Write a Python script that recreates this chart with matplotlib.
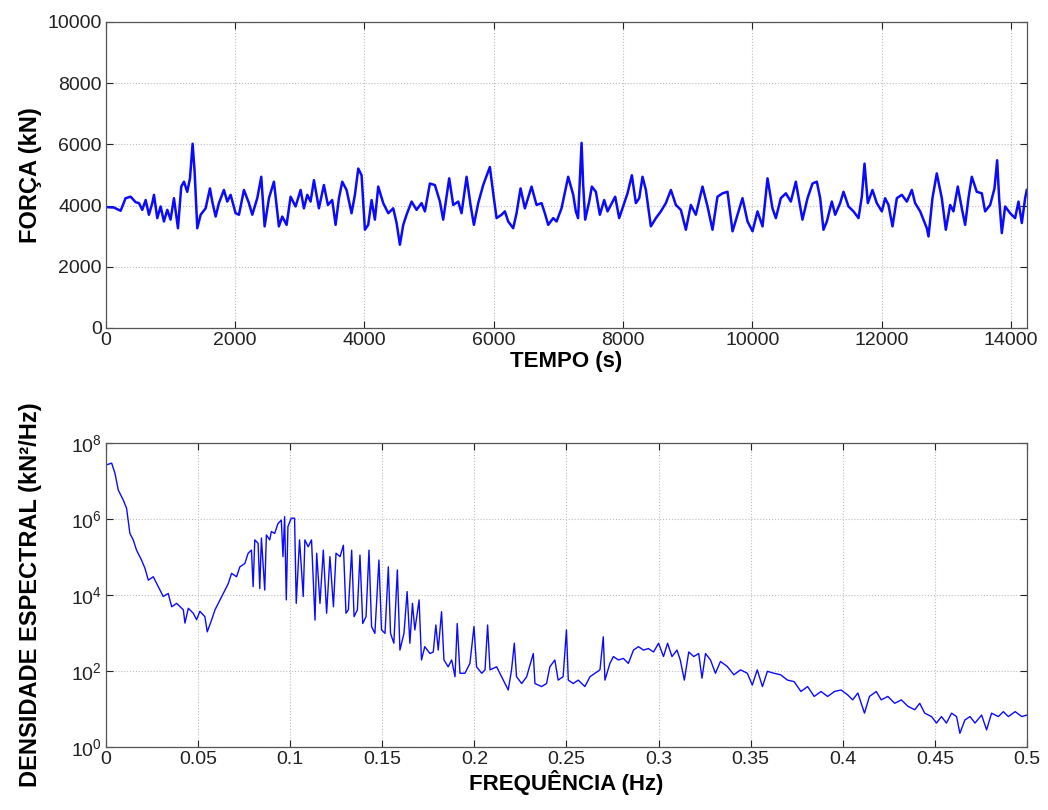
#forca no tempo e densidade espectral (figura em 2 paineis)

import matplotlib
matplotlib.use('Agg')
import matplotlib.pyplot as plt
import numpy as np

plt.rcParams['font.family'] = ['Liberation Sans', 'DejaVu Sans']
plt.rcParams['mathtext.fontset'] = 'custom'
plt.rcParams['mathtext.rm'] = 'Liberation Sans'

# serie temporal (s, kN)
tempo = [0, 124, 227, 304, 382, 459, 511, 562, 614, 665,
         717, 743, 794, 846, 897, 949, 1000, 1052, 1114, 1165,
         1207, 1258, 1300, 1341, 1372, 1413, 1465, 1542, 1609, 1645,
         1697, 1748, 1825, 1877, 1929, 2006, 2058, 2135, 2212, 2264,
         2341, 2403, 2455, 2522, 2599, 2676, 2728, 2795, 2857, 2934,
         3012, 3063, 3115, 3166, 3218, 3295, 3372, 3434, 3501, 3553,
         3605, 3656, 3723, 3800, 3852, 3904, 3955, 4007, 4058, 4110,
         4161, 4213, 4290, 4368, 4445, 4497, 4548, 4600, 4651, 4729,
         4806, 4883, 4935, 5012, 5090, 5167, 5218, 5311, 5373, 5451,
         5502, 5580, 5641, 5693, 5760, 5837, 5940, 6002, 6044, 6121,
         6172, 6224, 6301, 6353, 6415, 6482, 6585, 6662, 6740, 6791,
         6843, 6920, 6972, 7049, 7152, 7230, 7270, 7305, 7333, 7359,
         7384, 7415, 7477, 7518, 7580, 7642, 7709, 7761, 7828, 7879,
         7941, 8019, 8070, 8137, 8199, 8251, 8302, 8354, 8431, 8509,
         8586, 8663, 8741, 8818, 8895, 8973, 9050, 9127, 9230, 9308,
         9385, 9462, 9540, 9617, 9695, 9772, 9849, 9927, 10004, 10081,
         10159, 10236, 10313, 10365, 10442, 10520, 10597, 10674, 10777, 10855,
         10932, 10999, 11051, 11102, 11154, 11231, 11283, 11360, 11412, 11489,
         11566, 11644, 11695, 11737, 11788, 11860, 11927, 12005, 12056, 12108,
         12170, 12237, 12314, 12392, 12469, 12520, 12598, 12701, 12727, 12788,
         12855, 12933, 12995, 13062, 13113, 13180, 13242, 13294, 13345, 13397,
         13474, 13552, 13603, 13681, 13748, 13789, 13820, 13861, 13913, 13990,
         14067, 14119, 14171, 14222, 14248]
forca = [3950, 3935, 3830, 4240, 4290, 4110, 4080, 3860, 4180, 3700,
         4080, 4350, 3590, 3970, 3480, 3860, 3540, 4240, 3260, 4620,
         4780, 4450, 4890, 6020, 5100, 3260, 3700, 3910, 4560, 4130,
         3640, 4080, 4510, 4130, 4350, 3750, 3700, 4510, 4080, 3700,
         4240, 4940, 3320, 4240, 4780, 3320, 3640, 3370, 4290, 3970,
         4510, 3910, 4350, 4130, 4830, 3910, 4670, 4020, 4180, 3370,
         4240, 4780, 4510, 3750, 4350, 5210, 4990, 3210, 3370, 4180,
         3540, 4620, 4080, 3750, 3910, 3430, 2720, 3370, 3700, 4130,
         3860, 4080, 3810, 4720, 4670, 4130, 3540, 4890, 4020, 4130,
         3750, 4940, 4020, 3370, 4080, 4670, 5260, 4240, 3590, 3700,
         3810, 3480, 3260, 3750, 4560, 3910, 4620, 4020, 4080, 3750,
         3370, 3590, 3480, 3910, 4940, 4350, 3810, 3590, 4890, 6050,
         4670, 3540, 4130, 4620, 4450, 3700, 4180, 3810, 4080, 4290,
         3590, 4080, 4400, 4990, 4080, 4240, 4940, 4510, 3320, 3590,
         3810, 4080, 4510, 4020, 3860, 3210, 4020, 3700, 4620, 3970,
         3210, 4290, 4400, 4450, 3160, 3700, 4240, 3480, 3160, 3810,
         3320, 4890, 3910, 3590, 4240, 4400, 4130, 4780, 3540, 4240,
         4720, 4780, 4240, 3210, 3480, 4130, 3700, 4080, 4450, 3970,
         3810, 3590, 4290, 5370, 4080, 4510, 4080, 3810, 4240, 4020,
         3320, 4240, 4350, 4130, 4510, 4080, 3810, 3260, 2990, 4240,
         5050, 4240, 3210, 4020, 3810, 4620, 3910, 3370, 4240, 4940,
         4450, 4400, 3810, 4020, 4560, 5480, 4240, 3100, 3970, 3750,
         3590, 4130, 3430, 4240, 4510]

# densidade espectral (Hz, expoente de 10 em kN^2/Hz)
freq = [0.0, 0.0031, 0.0049, 0.0067, 0.0094, 0.0112, 0.0130, 0.0148, 0.0166, 0.0193,
        0.0212, 0.0230, 0.0257, 0.0284, 0.0311, 0.0338, 0.0357, 0.0384, 0.0420, 0.0429,
        0.0447, 0.0474, 0.0492, 0.0510, 0.0537, 0.0550, 0.0574, 0.0592, 0.0610, 0.0637,
        0.0664, 0.0682, 0.0709, 0.0727, 0.0754, 0.0772, 0.0790, 0.0799, 0.0808, 0.0826,
        0.0835, 0.0844, 0.0862, 0.0871, 0.0889, 0.0898, 0.0916, 0.0934, 0.0952, 0.0961,
        0.0970, 0.0979, 0.0988, 0.1006, 0.1024, 0.1033, 0.1051, 0.1071, 0.1080, 0.1098,
        0.1116, 0.1135, 0.1144, 0.1162, 0.1180, 0.1198, 0.1216, 0.1235, 0.1249, 0.1271,
        0.1289, 0.1303, 0.1316, 0.1334, 0.1347, 0.1365, 0.1379, 0.1394, 0.1412, 0.1428,
        0.1442, 0.1460, 0.1482, 0.1496, 0.1515, 0.1533, 0.1545, 0.1563, 0.1582, 0.1596,
        0.1618, 0.1635, 0.1650, 0.1664, 0.1677, 0.1700, 0.1713, 0.1731, 0.1759, 0.1777,
        0.1791, 0.1804, 0.1822, 0.1835, 0.1858, 0.1877, 0.1895, 0.1907, 0.1922, 0.1949,
        0.1976, 0.1998, 0.2012, 0.2040, 0.2058, 0.2072, 0.2085, 0.2121, 0.2148, 0.2184,
        0.2202, 0.2217, 0.2229, 0.2257, 0.2284, 0.2320, 0.2329, 0.2365, 0.2392, 0.2410,
        0.2437, 0.2455, 0.2482, 0.2500, 0.2510, 0.2537, 0.2564, 0.2600, 0.2628, 0.2655,
        0.2682, 0.2700, 0.2709, 0.2736, 0.2755, 0.2782, 0.2809, 0.2836, 0.2864, 0.2891,
        0.2918, 0.2945, 0.2973, 0.3000, 0.3027, 0.3049, 0.3073, 0.3100, 0.3118, 0.3140,
        0.3164, 0.3191, 0.3218, 0.3236, 0.3255, 0.3282, 0.3309, 0.3336, 0.3373, 0.3409,
        0.3445, 0.3482, 0.3509, 0.3536, 0.3564, 0.3591, 0.3627, 0.3663, 0.3700, 0.3736,
        0.3773, 0.3809, 0.3845, 0.3882, 0.3918, 0.3955, 0.3991, 0.4027, 0.4054, 0.4082,
        0.4118, 0.4145, 0.4182, 0.4209, 0.4245, 0.4282, 0.4318, 0.4354, 0.4391, 0.4418,
        0.4445, 0.4482, 0.4509, 0.4536, 0.4563, 0.4591, 0.4618, 0.4636, 0.4663, 0.4691,
        0.4718, 0.4754, 0.4781, 0.4808, 0.4845, 0.4872, 0.4899, 0.4936, 0.4972, 0.5000]
dens_exp = [7.42, 7.47, 7.20, 6.76, 6.50, 6.28, 5.62, 5.45, 5.18, 4.92,
            4.70, 4.39, 4.48, 4.22, 3.96, 4.04, 3.69, 3.78, 3.61, 3.26,
            3.65, 3.52, 3.35, 3.57, 3.43, 3.03, 3.35, 3.61, 3.78, 4.04,
            4.30, 4.57, 4.48, 4.74, 4.83, 5.10, 5.18, 4.22, 5.45, 5.36,
            4.17, 5.50, 4.13, 5.58, 5.45, 5.67, 5.62, 5.88, 5.97, 5.01,
            6.06, 3.87, 5.80, 6.02, 6.02, 3.78, 5.45, 3.96, 5.45, 5.27,
            5.45, 3.34, 5.10, 3.78, 5.18, 3.52, 5.01, 3.69, 5.10, 5.01,
            5.31, 3.52, 3.61, 5.18, 3.43, 3.61, 5.05, 3.25, 3.43, 5.18,
            3.17, 2.99, 4.92, 3.08, 2.99, 4.74, 2.99, 2.73, 4.66, 2.55,
            2.99, 4.09, 2.73, 3.78, 3.08, 3.87, 2.29, 2.64, 2.46, 2.50,
            3.21, 2.55, 3.56, 2.29, 2.11, 2.29, 1.85, 3.25, 1.94, 1.94,
            2.20, 3.17, 2.11, 1.94, 2.03, 3.21, 2.03, 2.11, 1.85, 1.50,
            2.03, 2.73, 1.85, 1.67, 1.85, 2.46, 1.67, 1.59, 1.67, 2.11,
            2.29, 1.76, 1.85, 3.08, 1.76, 1.67, 1.76, 1.59, 1.85, 1.94,
            2.03, 2.90, 1.76, 2.20, 2.38, 2.29, 2.33, 2.20, 2.55, 2.64,
            2.55, 2.59, 2.50, 2.73, 2.38, 2.73, 2.38, 2.55, 2.29, 1.76,
            2.50, 2.38, 2.46, 1.81, 2.46, 2.29, 1.94, 2.25, 2.12, 1.90,
            2.03, 1.94, 1.63, 2.03, 1.59, 1.99, 1.94, 1.90, 1.76, 1.72,
            1.46, 1.59, 1.33, 1.46, 1.33, 1.46, 1.50, 1.37, 1.24, 1.42,
            0.89, 1.33, 1.46, 1.24, 1.33, 1.15, 1.24, 1.07, 0.98, 1.15,
            0.89, 0.80, 0.63, 0.80, 0.63, 0.89, 0.80, 0.36, 0.71, 0.80,
            0.63, 0.84, 0.45, 0.89, 0.80, 0.93, 0.80, 0.93, 0.80, 0.84]

tempo_ticks = [0, 2000, 4000, 6000, 8000, 10000, 12000, 14000]
forca_ticks = [0, 2000, 4000, 6000, 8000, 10000]
freq_ticks = [0, 0.05, 0.1, 0.15, 0.2, 0.25, 0.3, 0.35, 0.4, 0.45, 0.5]
freq_labels = ['0', '0.05', '0.1', '0.15', '0.2', '0.25', '0.3', '0.35', '0.4', '0.45', '0.5']
dens_ticks = [1e0, 1e2, 1e4, 1e6, 1e8]

cor = '#0a0aff'
f = 14    # fontsize ticks
t = 16    # fontsize xlabel
ty = 17   # fontsize ylabel


def estilo_matlab(ax):
    ax.tick_params(direction='in', top=True, right=True, length=5, width=0.8,
                   labelsize=f, colors='#222222', pad=3)
    ax.tick_params(which='minor', left=False, right=False, top=False, bottom=False)
    for s in ax.spines.values():
        s.set_color('#555555')
        s.set_linewidth(0.9)
    ax.grid(True, linestyle=':', color='#bdbdbd', linewidth=0.8)
    ax.set_axisbelow(True)


fig = plt.figure(figsize=(10.48, 8.1), dpi=100)
ax1 = fig.add_axes([0.1011, 0.5951, 0.8788, 0.3778])
ax2 = fig.add_axes([0.1011, 0.0778, 0.8788, 0.3753])

# painel superior: forca x tempo
ax1.plot(tempo, forca, color=cor, linewidth=1.8)
ax1.set_xlim(0, 14250)
ax1.set_ylim(0, 10000)
ax1.set_xticks(tempo_ticks)
ax1.set_yticks(forca_ticks)
estilo_matlab(ax1)
ax1.set_xlabel('TEMPO (s)', fontsize=t, fontweight='bold', labelpad=1)
ax1.set_ylabel('FORÇA (kN)', fontsize=ty, fontweight='bold')
ax1.yaxis.set_label_coords(-0.069, 0.5)

# painel inferior: densidade espectral
ax2.plot(freq, 10 ** np.array(dens_exp), color=cor, linewidth=1.0)
ax2.set_yscale('log')
ax2.set_xlim(0, 0.5)
ax2.set_ylim(1e0, 1e8)
ax2.set_xticks(freq_ticks)
ax2.set_xticklabels(freq_labels)
ax2.set_yticks(dens_ticks)
ax2.yaxis.set_minor_locator(matplotlib.ticker.NullLocator())
estilo_matlab(ax2)
ax2.set_xlabel('FREQUÊNCIA (Hz)', fontsize=t, fontweight='bold', labelpad=1)
ax2.set_ylabel('DENSIDADE ESPECTRAL (kN²/Hz)', fontsize=ty, fontweight='bold')
ax2.yaxis.set_label_coords(-0.069, 0.5)

fig.savefig('out.png', dpi=100)
